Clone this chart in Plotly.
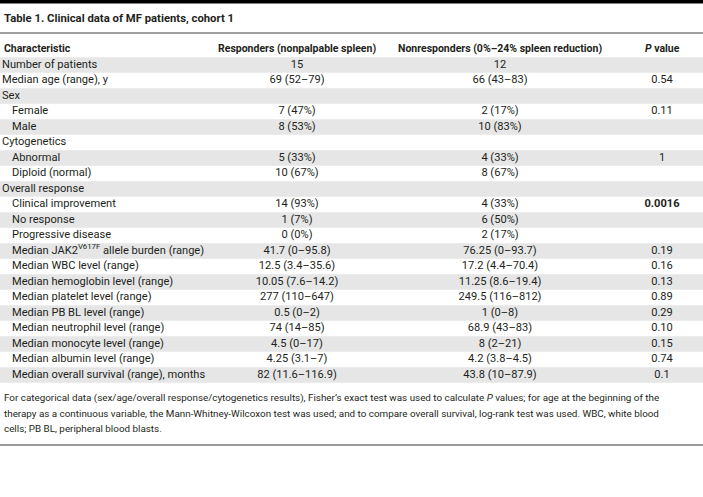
import plotly.graph_objects as go

W, H = 703, 497

title_text = "Table 1. Clinical data of MF patients, cohort 1"
headers = ["Characteristic", "Responders (nonpalpable spleen)",
           "Nonresponders (0%–24% spleen reduction)", "<i>P</i> value"]

characteristics = [
    "Number of patients", "Median age (range), y", "Sex", "Female", "Male",
    "Cytogenetics", "Abnormal", "Diploid (normal)", "Overall response",
    "Clinical improvement", "No response", "Progressive disease",
    "Median JAK2<sup>V617F</sup> allele burden (range)",
    "Median WBC level (range)", "Median hemoglobin level (range)",
    "Median platelet level (range)", "Median PB BL level (range)",
    "Median neutrophil level (range)", "Median monocyte level (range)",
    "Median albumin level (range)", "Median overall survival (range), months",
]
indent_level = [0, 0, 0, 1, 1, 0, 1, 1, 0, 1, 1, 1, 1, 1, 1, 1, 1, 1, 1, 1, 1]
responders = ["15", "69 (52–79)", "", "7 (47%)", "8 (53%)", "", "5 (33%)", "10 (67%)", "",
              "14 (93%)", "1 (7%)", "0 (0%)", "41.7 (0–95.8)", "12.5 (3.4–35.6)",
              "10.05 (7.6–14.2)", "277 (110–647)", "0.5 (0–2)", "74 (14–85)",
              "4.5 (0–17)", "4.25 (3.1–7)", "82 (11.6–116.9)"]
nonresponders = ["12", "66 (43–83)", "", "2 (17%)", "10 (83%)", "", "4 (33%)", "8 (67%)", "",
                 "4 (33%)", "6 (50%)", "2 (17%)", "76.25 (0–93.7)", "17.2 (4.4–70.4)",
                 "11.25 (8.6–19.4)", "249.5 (116–812)", "1 (0–8)", "68.9 (43–83)",
                 "8 (2–21)", "4.2 (3.8–4.5)", "43.8 (10–87.9)"]
p_values = ["", "0.54", "", "0.11", "", "", "1", "", "",
            "<b>0.0016</b>", "", "", "0.19", "0.16", "0.13", "0.89", "0.29", "0.10",
            "0.15", "0.74", "0.1"]

footnote_lines = [
    "For categorical data (sex/age/overall response/cytogenetics results), Fisher’s exact test was used to calculate <i>P</i> values; for age at the beginning of the",
    "therapy as a continuous variable, the Mann-Whitney-Wilcoxon test was used; and to compare overall survival, log-rank test was used. WBC, white blood",
    "cells; PB BL, peripheral blood blasts.",
]

FONT = "Roboto, Liberation Sans, sans-serif"
TXT = "#231f20"
GRAY = "#e6e6e7"

# layout geometry (pixels)
ROW0 = 65.0      # centre of first body row
ROWH = 15.5      # row height
col_left = 2
col_indent = 10
col_centres = [297, 500, 662]

n = len(characteristics)
rows = list(range(n))


def ypx(p):
    return (p - ROW0) / ROWH


fig = go.Figure()
fig.add_trace(go.Scatter(
    x=[col_left + col_indent * lv for lv in indent_level], y=rows, text=characteristics,
    mode="text", textposition="middle right",
    textfont=dict(family=FONT, size=11.1, color=TXT), hoverinfo="skip"))
for cx, vals in zip(col_centres, [responders, nonresponders, p_values]):
    fig.add_trace(go.Scatter(
        x=[cx] * n, y=rows, text=vals, mode="text", textposition="middle center",
        textfont=dict(family=FONT, size=11.1, color=TXT), hoverinfo="skip"))

shapes = [
    dict(type="rect", xref="paper", yref="y", x0=0, x1=1, y0=i - 0.5, y1=i + 0.5,
         fillcolor=GRAY, line=dict(width=0), layer="below")
    for i in rows if i % 2 == 0
]
shapes += [
    dict(type="rect", xref="paper", yref="paper", x0=0, x1=1, y0=1 - 3.5 / H, y1=1,
         fillcolor="black", line=dict(width=0)),
    dict(type="line", xref="paper", yref="paper", x0=0, x1=1,
         y0=1 - 33 / H, y1=1 - 33 / H, line=dict(color="#7f7f7f", width=1.5)),
    dict(type="line", xref="paper", yref="paper", x0=0, x1=1,
         y0=1 - 445 / H, y1=1 - 445 / H, line=dict(color="#9a9a9a", width=2)),
]

annotations = [
    dict(text=f"<b>{title_text}</b>", xref="paper", yref="paper", x=0, y=1 - 18 / H,
         xanchor="left", yanchor="middle", xshift=2, showarrow=False,
         font=dict(family=FONT, size=11.3, color=TXT)),
]
hdr_x = [col_left] + col_centres
hdr_anchor = ["left", "center", "center", "center"]
for hx, ha, ht in zip(hdr_x, hdr_anchor, headers):
    annotations.append(dict(text=f"<b>{ht}</b>", xref="x", yref="y", x=hx, y=ypx(48),
                            xanchor=ha, yanchor="middle", showarrow=False,
                            font=dict(family=FONT, size=10.5, color=TXT)))
for k, line in enumerate(footnote_lines):
    annotations.append(dict(text=line, xref="paper", yref="paper", x=0, y=1 - (398 + 15 * k) / H,
                            xanchor="left", yanchor="middle", xshift=2, showarrow=False,
                            font=dict(family=FONT, size=9.85, color=TXT)))

fig.update_layout(
    width=W, height=H,
    margin=dict(l=0, r=0, t=0, b=0),
    paper_bgcolor="white",
    plot_bgcolor="white",
    showlegend=False,
    hovermode=False,
    xaxis=dict(range=[0, W], visible=False, fixedrange=True),
    yaxis=dict(range=[ypx(H), ypx(0)], visible=False, fixedrange=True),
    shapes=shapes,
    annotations=annotations,
)

fig.write_html("out.html", config={"displayModeBar": False},
               post_script="document.body.style.margin='0';")
